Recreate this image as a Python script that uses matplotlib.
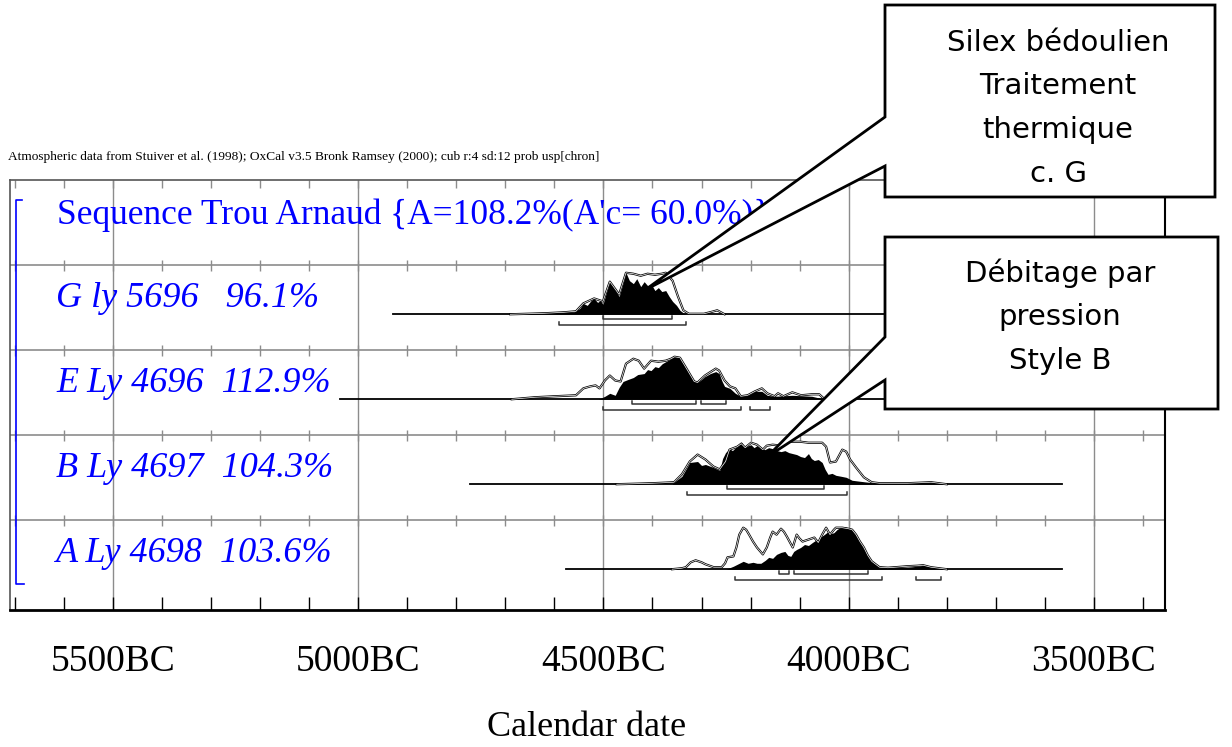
import matplotlib.pyplot as plt
from matplotlib.patches import Polygon
from matplotlib.transforms import blended_transform_factory

# ---------------- data (years BC, relative probability) ----------------
header = ("Atmospheric data from Stuiver et al. (1998); OxCal v3.5 Bronk Ramsey (2000); "
          "cub r:4 sd:12 prob usp[chron]")
sequence_label = "Sequence Trou Arnaud {A=108.2%(A'c= 60.0%)}"
sample_labels = ["G ly 5696   96.1%", "E Ly 4696  112.9%",
                 "B Ly 4697  104.3%", "A Ly 4698  103.6%"]
tick_years = [5500, 5000, 4500, 4000, 3500]
tick_labels = ["5500BC", "5000BC", "4500BC", "4000BC", "3500BC"]
x_label = "Calendar date"

note_g = ["Silex bédoulien", "Traitement", "thermique", "c. G"]
note_b = ["Débitage par", "pression", "Style B"]

# baseline spans (from, to) in years BC
spans = [(4929, 3565), (5037, 3565), (4772, 3565), (4576, 3565)]

# G ly 5696
g_like_years = [4690, 4620, 4580, 4556, 4541, 4519, 4501, 4487, 4468, 4454, 4439, 4424,
                4410, 4395, 4381, 4373, 4359, 4348, 4337, 4326, 4295, 4279, 4268, 4253]
g_like_prob = [0, 1, 2, 3, 11, 16, 13, 33, 20, 42, 41, 39,
               41, 40, 41, 42, 34, 18, 4, 0.5, 0.5, 2.5, 4, 0]
g_post_years = [4687, 4660, 4640, 4620, 4600, 4580, 4560, 4548, 4541, 4533, 4525, 4519,
                4512, 4506, 4501, 4494, 4487, 4478, 4468, 4461, 4454, 4447, 4439, 4432,
                4424, 4417, 4410, 4402, 4395, 4388, 4381, 4373, 4366, 4359, 4351, 4344,
                4336, 4330]
g_post_prob = [0, 1, 0.5, 1.5, 1, 2, 2.5, 6, 11, 9, 14, 16,
               12, 14, 10, 22, 33, 26, 18, 30, 42, 34, 31, 36,
               28, 33, 29, 30, 24, 27, 23, 24, 18, 13, 9, 4,
               1, 0]
g_range68 = [(4500, 4361)]
g_range95 = [(4590, 4331)]

# E Ly 4696
e_like_years = [4687, 4640, 4600, 4556, 4541, 4527, 4516, 4508, 4497, 4487, 4476, 4465,
                4454, 4439, 4428, 4417, 4403, 4388, 4373, 4362, 4355, 4344, 4333, 4315,
                4308, 4293, 4271, 4264, 4253, 4242, 4231, 4220, 4206, 4191, 4177, 4166,
                4151, 4144, 4133, 4115, 4097, 4075, 4060, 4049]
e_like_prob = [0, 2, 3, 4, 11, 13, 14, 11, 19, 24, 19, 18,
               36, 41, 39, 31, 39, 38, 39, 41, 43, 42, 33, 18,
               17, 24, 31, 29, 19, 13, 11, 3, 4, 8, 11, 6,
               3, 6, 3, 7, 4, 5, 5, 0]
e_post_years = [4510, 4497, 4487, 4476, 4468, 4460, 4450, 4439, 4430, 4417, 4410, 4403,
                4395, 4388, 4380, 4373, 4366, 4362, 4352, 4344, 4333, 4324, 4315, 4308,
                4300, 4293, 4282, 4271, 4264, 4258, 4253, 4242, 4231, 4220, 4206, 4191,
                4177, 4166, 4151, 4115, 4075, 4049]
e_post_prob = [0, 3, 6, 4, 12, 18, 20, 22, 25, 26, 30, 29,
               33, 32, 36, 38, 40, 42, 43, 42, 33, 25, 19, 17,
               20, 23, 26, 28, 26, 18, 13, 11, 6, 3, 4, 8,
               8, 4, 3, 4, 3, 0]
e_range68 = [(4441, 4312), (4301, 4251)]
e_range95 = [(4500, 4220), (4201, 4161)]

# B Ly 4697
b_like_years = [4473, 4400, 4356, 4340, 4324, 4308, 4292, 4276, 4263, 4251, 4243, 4227,
                4219, 4211, 4199, 4187, 4175, 4167, 4155, 4138, 4122, 4098, 4082, 4054,
                4046, 4038, 4026, 4013, 4005, 3997, 3985, 3969, 3953, 3937, 3880, 3832,
                3800]
b_like_prob = [0, 1, 2, 10, 23, 30, 25, 18, 15, 23, 35, 38,
               41, 37, 42, 40, 35, 39, 40, 39, 43, 43, 42, 42,
               38, 22, 23, 35, 33, 25, 17, 7, 2, 1, 1, 2,
               0]
b_post_years = [4360, 4356, 4340, 4324, 4308, 4300, 4292, 4276, 4263, 4257, 4251, 4243,
                4237, 4231, 4225, 4219, 4211, 4205, 4199, 4193, 4187, 4179, 4171, 4163,
                4155, 4146, 4138, 4130, 4122, 4114, 4106, 4098, 4090, 4082, 4076, 4070,
                4062, 4054, 4048, 4042, 4034, 4026, 4015, 4005, 3993, 3977, 3960, 3945,
                3880, 3832, 3800]
b_post_prob = [0, 2, 8, 22, 23, 19, 20, 17, 14, 26, 32, 36,
               34, 37, 39, 43, 37, 39, 40, 37, 39, 36, 35, 37,
               36, 34, 33, 34, 32, 31, 30, 28, 27, 31, 26, 24,
               25, 22, 15, 10, 11, 9, 8, 7, 4, 3, 2, 1,
               1, 1.5, 0]
b_range68 = [(4249, 4051)]
b_range95 = [(4330, 4003)]

# A Ly 4698
a_like_years = [4360, 4340, 4332, 4322, 4312, 4300, 4292, 4275, 4259, 4252, 4247, 4235,
                4229, 4223, 4215, 4209, 4203, 4195, 4187, 4175, 4167, 4160, 4155, 4147,
                4138, 4132, 4126, 4114, 4106, 4100, 4094, 4082, 4070, 4062, 4054, 4046,
                4038, 4030, 4026, 4013, 4001, 3993, 3985, 3977, 3969, 3961, 3953, 3937,
                3920, 3905, 3880, 3860, 3848, 3832, 3800]
a_like_prob = [0, 1, 2, 7, 9, 7, 5, 2, 2, 6, 12, 13,
               22, 35, 42, 40, 35, 28, 22, 15, 22, 32, 38, 35,
               41, 38, 33, 22, 35, 31, 28, 30, 32, 27, 35, 42,
               35, 40, 42, 42, 41, 40, 35, 28, 22, 14, 8, 2,
               1.5, 2, 3, 3.5, 4, 2, 0]
a_post_years = [4250, 4235, 4227, 4215, 4205, 4195, 4187, 4179, 4170, 4163, 4155, 4147,
                4138, 4130, 4124, 4118, 4112, 4106, 4098, 4090, 4082, 4074, 4068, 4062,
                4056, 4050, 4042, 4036, 4030, 4024, 4018, 4010, 4001, 3995, 3989, 3983,
                3977, 3971, 3965, 3959, 3953, 3945, 3937, 3920, 3905, 3880, 3860, 3848,
                3832, 3800]
a_post_prob = [0, 3, 5, 8, 6, 7, 6, 6, 9, 12, 11, 15,
               17, 18, 14, 13, 18, 20, 22, 25, 24, 27, 29, 30,
               33, 35, 38, 36, 37, 40, 42, 43, 42, 40, 38, 33,
               28, 22, 17, 12, 8, 5, 3, 2, 2, 2, 3, 4,
               2, 0]
a_range68 = [(4142, 4121), (4112, 3961)]
a_range95 = [(4231, 3933), (3862, 3812)]

samples = [
    (g_like_years, g_like_prob, g_post_years, g_post_prob, g_range68, g_range95),
    (e_like_years, e_like_prob, e_post_years, e_post_prob, e_range68, e_range95),
    (b_like_years, b_like_prob, b_post_years, b_post_prob, b_range68, b_range95),
    (a_like_years, a_like_prob, a_post_years, a_post_prob, a_range68, a_range95),
]

# ---------------- figure ----------------
W, H = 1232, 747
serif = "Liberation Serif"
grid_col = "#8c8c8c"
blue = "#0000ff"
scale = 0.5 / 43.0      # probability unit -> row height
x_left, x_right = -5710, -3355
y_bottom = 5.06

fig = plt.figure(figsize=(W / 100, H / 100), dpi=100)
ax = fig.add_axes([10 / W, 1 - 610 / H, 1155 / W, 430 / H])
ax.set_xlim(x_left, x_right)
ax.set_ylim(y_bottom, 0)

# grid and ticks
ax.vlines([-y for y in tick_years], 0, y_bottom, color=grid_col, lw=1, zorder=1)
ax.hlines([1, 2, 3, 4], x_left, x_right, color=grid_col, lw=1.2, zorder=1)
minor = [-y for y in range(5700, 3399, -100)]
for sep in [1, 2, 3, 4]:
    ax.vlines(minor, sep - 0.055, sep + 0.075, color=grid_col, lw=1, zorder=1)
ax.vlines(minor, 0, 0.1, color=grid_col, lw=1, zorder=1)
ax.vlines(minor, y_bottom, y_bottom - 0.15, color="black", lw=1, zorder=1)

for side in ["top", "left"]:
    ax.spines[side].set_color("#555555")
    ax.spines[side].set_linewidth(1.2)
ax.spines["bottom"].set_linewidth(2)
ax.spines["right"].set_linewidth(1.5)

ax.set_xticks([-y for y in tick_years])
ax.set_xticklabels(tick_labels, family=serif, fontsize=27)
ax.tick_params(axis="x", length=0, pad=25)
ax.set_yticks([])

# sequence bracket and labels
bt = blended_transform_factory(ax.transAxes, ax.transData)
ax.plot([0.0105, 0.0052, 0.0052, 0.012], [0.24, 0.24, 4.75, 4.75],
        color=blue, lw=1.2, transform=bt, clip_on=False)
ax.text(0.041, 0.42, sequence_label, transform=bt, color=blue, family=serif,
        fontsize=25.5, va="center", ha="left")
for i, lab in enumerate(sample_labels):
    ax.text(0.040, i + 1.4, lab, transform=bt, color=blue, family=serif,
            style="italic", fontsize=26, va="center", ha="left")

# distributions
for i, (ly, lp, py, pp, r68, r95) in enumerate(samples):
    base = i + 1.58
    span = spans[i]
    ax.plot([-span[0], -span[1]], [base, base], color="black", lw=1.3, zorder=3)
    lx = [-v for v in ly]
    lyy = [base - p * scale for p in lp]
    ax.plot(lx, lyy, color="black", lw=1.6, zorder=3)
    ax.fill_between([-v for v in py], base, [base - p * scale for p in pp],
                    color="black", lw=0, zorder=4)
    ax.plot(lx, lyy, color="white", lw=0.5, zorder=5)
    for rng, off in [(r68, 0.06), (r95, 0.125)]:
        for a, b in rng:
            yb = base + off
            ax.plot([-a, -a, -b, -b], [yb - 0.035, yb, yb, yb - 0.035],
                    color="#333333", lw=1.1, zorder=3)

fig.text(8 / W, 1 - 157 / H, header, family=serif, fontsize=9.6, va="center", ha="left")
fig.text(587 / W, 1 - 728 / H, x_label, family=serif, fontsize=26, va="center", ha="center")

# callout boxes
ov = fig.add_axes([0, 0, 1, 1], zorder=10)
ov.set_xlim(0, W)
ov.set_ylim(H, 0)
ov.axis("off")
ov.patch.set_alpha(0)
box_g = [(885, 5), (1215, 5), (1215, 197), (885, 197), (885, 166), (645, 290), (885, 117)]
box_b = [(885, 237), (1218, 237), (1218, 409), (885, 409), (885, 380), (767, 457), (885, 337)]
for pts in [box_g, box_b]:
    ov.add_patch(Polygon(pts, closed=True, facecolor="white", edgecolor="black", lw=2))
for j, line in enumerate(note_g):
    ov.text(1058, 43 + 43.5 * j, line, fontsize=21, family="DejaVu Sans",
            ha="center", va="center")
for j, line in enumerate(note_b):
    ov.text(1060, 273 + 44 * j, line, fontsize=21, family="DejaVu Sans",
            ha="center", va="center")

fig.savefig("out.png", dpi=100)
